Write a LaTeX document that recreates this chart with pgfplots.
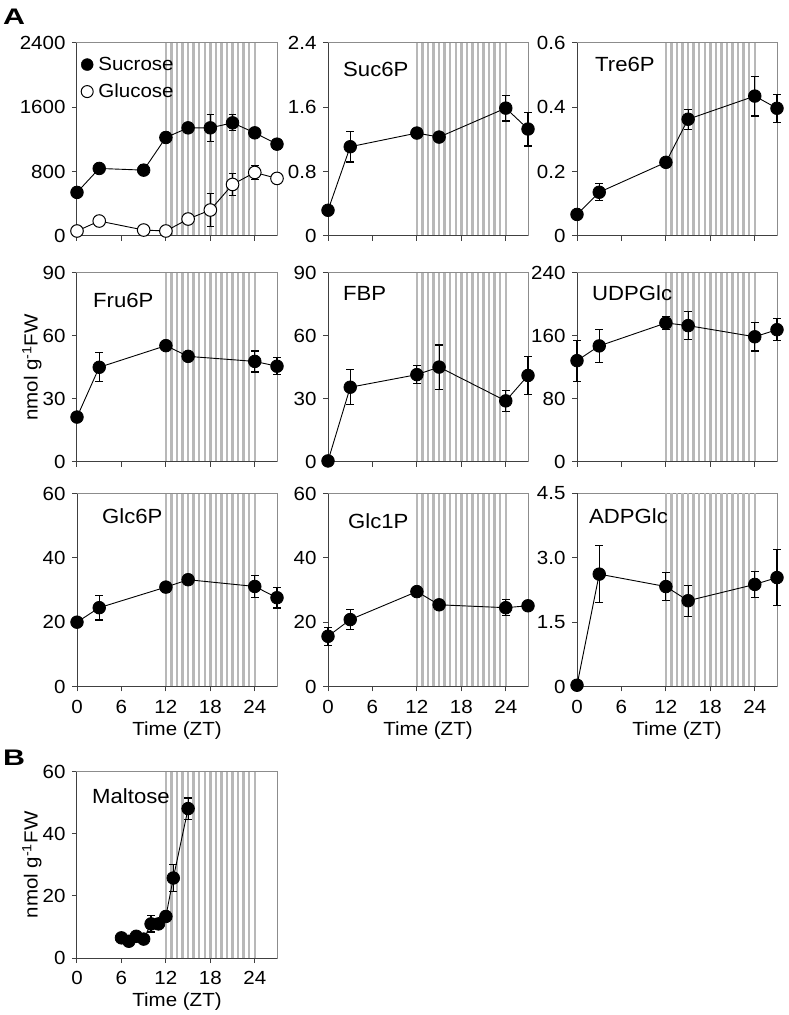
\documentclass[border=0pt]{standalone}
\usepackage{fontspec}
\setmainfont{Liberation Sans}[FakeStretch=1.08]
\newfontfamily\panelfont{Liberation Sans}[FakeStretch=1.35]
\usepackage{pgfplots}
\pgfplotsset{compat=1.18}
\newcommand\fs{\fontsize{19}{22}\selectfont}
\newcommand\fl{\fontsize{20.5}{24}\selectfont}
\definecolor{stripe}{gray}{0.72}
\definecolor{frametop}{gray}{0.55}
\definecolor{framebot}{gray}{0.25}
\newcommand\stripes[1]{\addplot[ycomb, draw=stripe, line width=2.4pt, no marks, forget plot] coordinates {(12,#1) (12.75,#1) (13.5,#1) (14.25,#1) (15,#1) (15.75,#1) (16.5,#1) (17.25,#1) (18,#1) (18.75,#1) (19.5,#1) (20.25,#1) (21,#1) (21.75,#1) (22.5,#1) (23.25,#1) (24,#1)};
\draw[framebot, line width=1pt] (rel axis cs:0,1) -- (rel axis cs:0,0) -- (rel axis cs:1,0);}
\newcommand\plabel[3]{\node[anchor=base west, font=\fl, inner sep=0pt, xshift=#1, yshift=#2] at (rel axis cs:0,1) {#3};}
\pgfplotsset{
 panel/.style={
   scale only axis, width=200pt, height=193pt,
   xmin=0, xmax=27, ymin=0,
   xtick={0,6,12,18,24},
   xtick pos=left, ytick pos=left, tick align=outside,
   major tick length=5pt,
   axis line style={draw=frametop, line width=1pt},
   tick style={draw=framebot, line width=1pt},
   /pgf/number format/assume math mode=true,
   /pgf/number format/1000 sep={},
   tick label style={font=\fs},
   label style={font=\fs},
   xticklabels={},
   yticklabel style={xshift=-3pt},
   xticklabel style={yshift=-5pt},
   clip=false,
   anchor=south west,
 },
 withx/.style={xticklabels={0,6,12,18,24}, xlabel={Time (ZT)}, xlabel style={yshift=-1pt}},
 withy/.style={ylabel={nmol g\textsuperscript{-1}FW}, every axis y label/.style={at={(rel axis cs:0,0.5)}, xshift=-45pt, rotate=90, anchor=center, font=\fs}},
 data/.style={black, line width=0.9pt, mark=*, mark size=6.3pt, mark options={solid, fill=black, line width=0.8pt},
   error bars/y dir=both, error bars/y explicit, error bars/error bar style={line width=1.2pt, black}, error bars/error mark options={rotate=90, black, line width=1.2pt, mark size=3.8pt}},
 odata/.style={data, mark options={solid, fill=white, draw=black, line width=1pt}},
}
\begin{document}
\begin{tikzpicture}
\useasboundingbox (0,0) rectangle (789pt,1015pt);
\node[anchor=base west, font=\fontsize{22.5}{26}\panelfont\bfseries, inner sep=0pt] at (3pt,990pt) {A};
\node[anchor=base west, font=\fontsize{22.5}{26}\panelfont\bfseries, inner sep=0pt] at (3pt,249pt) {B};

% Row 1
\begin{axis}[panel, at={(77pt,779pt)}, ymax=2400, ytick={0,800,1600,2400},
  legend style={draw=none, fill=none, at={(0,1)}, anchor=north west, xshift=4pt, yshift=-12pt, font=\fs, row sep=8pt, inner sep=0pt, cells={anchor=west}},
  legend image code/.code={\draw[#1] plot coordinates {(0pt,0pt)};}]
\stripes{2400}
\addplot[data, forget plot] coordinates {(0,542) +- (0,30) (3,840) +- (0,30) (9,819) +- (0,65) (12,1225) +- (0,55) (15,1345) +- (0,50) (18,1345) +- (0,170) (21,1407) +- (0,100) (24,1283) +- (0,40) (27,1142) +- (0,60)};
\addplot[odata, forget plot] coordinates {(0,62) +- (0,0) (3,186) +- (0,0) (9,74) +- (0,35) (12,62) +- (0,0) (15,211) +- (0,0) (18,323) +- (0,205) (21,641) +- (0,140) (24,790) +- (0,90) (27,716) +- (0,0)};
\addlegendimage{black, mark=*, mark size=6pt, mark options={fill=black}}
\addlegendentry{\,Sucrose}
\addlegendimage{black, mark=*, mark size=6pt, mark options={fill=white, line width=1pt}}
\addlegendentry{\,Glucose}
\end{axis}

\begin{axis}[panel, at={(328pt,779pt)}, ymax=2.4, ytick={0,0.8,1.6,2.4}, yticklabels={0,0.8,1.6,2.4}]
\stripes{2.4}
\addplot[data] coordinates {(0,0.32) +- (0,0) (3,1.11) +- (0,0.19) (12,1.28) +- (0,0.03) (15,1.23) +- (0,0.03) (24,1.59) +- (0,0.16) (27,1.33) +- (0,0.21)};
\plabel{15pt}{-34pt}{Suc6P}
\end{axis}

\begin{axis}[panel, at={(577pt,779pt)}, ymax=0.6, ytick={0,0.2,0.4,0.6}, yticklabels={0,0.2,0.4,0.6}]
\stripes{0.6}
\addplot[data] coordinates {(0,0.067) +- (0,0) (3,0.136) +- (0,0.026) (12,0.229) +- (0,0.015) (15,0.363) +- (0,0.031) (24,0.435) +- (0,0.062) (27,0.397) +- (0,0.044)};
\plabel{18pt}{-29pt}{Tre6P}
\end{axis}

% Row 2
\begin{axis}[panel, withy, at={(77pt,553pt)}, height=189pt, ymax=90, ytick={0,30,60,90}]
\stripes{90}
\addplot[data] coordinates {(0,21.4) +- (0,0) (3,45.1) +- (0,6.9) (12,55.4) +- (0,2) (15,50.3) +- (0,1.5) (24,47.9) +- (0,5) (27,45.6) +- (0,4)};
\plabel{16pt}{-34pt}{Fru6P}
\end{axis}

\begin{axis}[panel, at={(328pt,553pt)}, height=189pt, ymax=90, ytick={0,30,60,90}]
\stripes{90}
\addplot[data] coordinates {(0,0.5) +- (0,0) (3,35.6) +- (0,8.4) (12,41.6) +- (0,4.2) (15,45.2) +- (0,10.5) (24,29.1) +- (0,5) (27,41.2) +- (0,9)};
\plabel{15pt}{-28pt}{FBP}
\end{axis}

\begin{axis}[panel, at={(577pt,553pt)}, height=189pt, ymax=240, ytick={0,80,160,240}]
\stripes{240}
\addplot[data] coordinates {(0,128.7) +- (0,26) (3,147.4) +- (0,21) (12,176.5) +- (0,8) (15,173.2) +- (0,18) (24,159) +- (0,18) (27,168) +- (0,14)};
\plabel{15pt}{-28pt}{UDPGlc}
\end{axis}

% Row 3
\begin{axis}[panel, withx, at={(77pt,328.5pt)}, ymax=60, ytick={0,20,40,60}]
\stripes{60}
\addplot[data] coordinates {(0,20.0) +- (0,0) (3,24.5) +- (0,3.8) (12,30.9) +- (0,1.5) (15,33.2) +- (0,1) (24,31.1) +- (0,3.5) (27,27.6) +- (0,3.2)};
\plabel{25pt}{-30pt}{Glc6P}
\end{axis}

\begin{axis}[panel, withx, at={(328pt,328.5pt)}, ymax=60, ytick={0,20,40,60}]
\stripes{60}
\addplot[data] coordinates {(0,15.6) +- (0,2.8) (3,20.8) +- (0,3.2) (12,29.5) +- (0,1) (15,25.4) +- (0,1) (24,24.5) +- (0,2.5) (27,25.1) +- (0,1)};
\plabel{20pt}{-35pt}{Glc1P}
\end{axis}

\begin{axis}[panel, withx, at={(577pt,328.5pt)}, ymax=4.5, ytick={0,1.5,3,4.5}, yticklabels={0,1.5,3.0,4.5}]
\stripes{4.5}
\addplot[data] coordinates {(0,0.03) +- (0,0) (3,2.62) +- (0,0.66) (12,2.33) +- (0,0.33) (15,2.0) +- (0,0.36) (24,2.38) +- (0,0.3) (27,2.54) +- (0,0.65)};
\plabel{12pt}{-30pt}{ADPGlc}
\end{axis}

% B
\begin{axis}[panel, withx, withy, at={(77pt,57pt)}, height=186pt, ymax=60, ytick={0,20,40,60}]
\stripes{60}
\addplot[data] coordinates {(6,6.5) +- (0,0.8) (7,5.4) +- (0,0.8) (8,7.0) +- (0,0.8) (9,6.1) +- (0,0.8) (10,11) +- (0,2.6) (11,11) +- (0,1) (12,13.4) +- (0,1.5) (13,25.8) +- (0,4.3) (15,48.2) +- (0,3.4)};
\plabel{15pt}{-31pt}{Maltose}
\end{axis}
\end{tikzpicture}
\end{document}
